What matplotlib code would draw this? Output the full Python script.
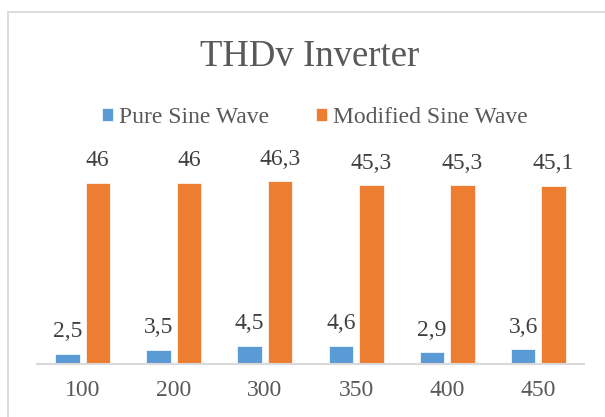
import matplotlib.pyplot as plt
from matplotlib.patches import Rectangle
import numpy as np

# Datos
categorias = ['100', '200', '300', '350', '400', '450']
pure_sine = [2.5, 3.5, 4.5, 4.6, 2.9, 3.6]
modified_sine = [46, 46, 46.3, 45.3, 45.3, 45.1]

azul = '#5B9BD5'
naranja = '#ED7D31'
gris = '#595959'

plt.rcParams['font.family'] = ['Liberation Serif', 'DejaVu Serif']

fig = plt.figure(figsize=(6.05, 4.17), dpi=100)
ax = fig.add_axes([37 / 605, 0.128, 547 / 605, 0.472])

# Borde del área del gráfico (se sale por la derecha y por abajo)
fig.patches.append(Rectangle((7.5 / 605, -0.2), 1.5, (417 - 11.7) / 417 + 0.2,
                             transform=fig.transFigure, fill=False,
                             edgecolor='#D9D9D9', linewidth=1.3))

x = np.arange(len(categorias))
w = 0.269
off = 0.167
b1 = ax.bar(x - off, pure_sine, w, color=azul, edgecolor='white', linewidth=0.5,
            label='Pure Sine Wave')
b2 = ax.bar(x + off, modified_sine, w, color=naranja, edgecolor='white', linewidth=0.5,
            label='Modified Sine Wave')


def etiqueta(v):
    return ('%g' % v).replace('.', ',')


for barras, vals in ((b1, pure_sine), (b2, modified_sine)):
    for r, v in zip(barras, vals):
        ax.annotate(etiqueta(v), (r.get_x() + r.get_width() / 2, r.get_height()),
                    xytext=(0, 12), textcoords='offset points', ha='center', va='baseline',
                    fontsize=17, color='#404040')

ax.set_xlim(-0.5, len(categorias) - 0.5)
ax.set_ylim(0, 50)
ax.set_xticks(x)
ax.set_xticklabels(categorias, fontsize=17, color=gris)
ax.tick_params(axis='x', length=0, pad=11.5)
ax.set_yticks([])
for s in ['top', 'right', 'left']:
    ax.spines[s].set_visible(False)
ax.spines['bottom'].set_color('#D9D9D9')
ax.spines['bottom'].set_linewidth(1.5)

fig.text(310 / 605, (417 - 66) / 417, 'THDv Inverter', ha='center', va='baseline',
         fontsize=26.5, color=gris)
fig.legend(handles=[b1, b2], loc='center', bbox_to_anchor=(315 / 605, 0.718), ncol=2,
           frameon=False, fontsize=17, handlelength=0.47, handleheight=0.47,
           handletextpad=0.25, columnspacing=2.0, labelcolor=gris, borderpad=0)

plt.savefig('out.png', dpi=100)
